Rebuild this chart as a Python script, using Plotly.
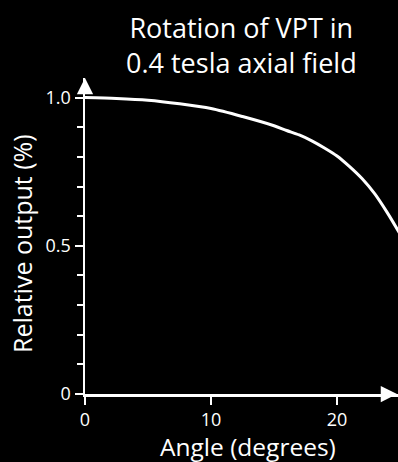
import plotly.graph_objects as go

angle_deg = [0, 2.5, 5, 7.5, 10, 12.5, 15, 16, 17, 18, 19, 20, 21, 22, 23, 24, 25]
relative_output = [1.0, 0.997, 0.991, 0.979, 0.963, 0.936, 0.905, 0.889, 0.874, 0.854,
                   0.830, 0.803, 0.767, 0.726, 0.675, 0.611, 0.54]

x_tick_vals = [0, 10, 20]
x_tick_text = ["0", "10", "20"]
y_tick_vals = [0, 0.5, 1.0]
y_tick_text = ["0", "0.5", "1.0"]

title_text = "Rotation of VPT in<br>0.4 tesla axial field"
x_title = "Angle (degrees)"
y_title = "Relative output (%)"

FONT = "Open Sans"
W, H = 398, 462
L, R, T, B = 85, 0, 78, 68
X_MAX = 24.84
Y_MAX = 1.066
PW = W - L - R
PH = H - T - B

fig = go.Figure()
fig.add_trace(go.Scatter(
    x=angle_deg, y=relative_output, mode="lines",
    line=dict(color="white", width=3, shape="spline", smoothing=0.8),
    hoverinfo="skip", showlegend=False,
))

fig.update_layout(
    width=W, height=H,
    margin=dict(l=L, r=R, t=T, b=B, pad=0),
    paper_bgcolor="black", plot_bgcolor="black",
    font=dict(family=FONT, color="white"),
    xaxis=dict(
        range=[0, X_MAX], showgrid=False, zeroline=False,
        showline=True, linecolor="white", linewidth=2.5,
        ticks="outside", ticklen=8, tickwidth=2, tickcolor="white",
        tickvals=x_tick_vals, ticktext=x_tick_text,
        tickfont=dict(size=18, family=FONT, color="white"),
    ),
    yaxis=dict(
        range=[0, Y_MAX], showgrid=False, zeroline=False,
        showline=True, linecolor="white", linewidth=2.5,
        ticks="outside", ticklen=8, tickwidth=2, tickcolor="white",
        tickvals=y_tick_vals, ticktext=y_tick_text,
        tickfont=dict(size=18, family=FONT, color="white"),
        minor=dict(dtick=0.1, tick0=0, ticks="outside", ticklen=6, tickwidth=2, tickcolor="white"),
    ),
)

# axis arrowheads
fig.add_annotation(x=1, y=0, xref="paper", yref="paper", ax=-14, ay=0,
                   text="", showarrow=True, arrowhead=2, arrowsize=1.3,
                   arrowwidth=2.5, arrowcolor="white")
fig.add_annotation(x=0, y=1, xref="paper", yref="paper", ax=0, ay=14,
                   text="", showarrow=True, arrowhead=2, arrowsize=1.3,
                   arrowwidth=2.5, arrowcolor="white")

# title
fig.add_annotation(x=(241 - L) / PW, y=1, xref="paper", yref="paper",
                   yanchor="bottom", yshift=-4, xanchor="center", align="center",
                   borderpad=0,
                   text=title_text, showarrow=False,
                   font=dict(size=27, family=FONT, color="white"))
# x title
fig.add_annotation(x=(248 - L) / PW, y=0, xref="paper", yref="paper",
                   xanchor="center", yanchor="top", yshift=-35, borderpad=0,
                   text=x_title, showarrow=False,
                   font=dict(size=24.5, family=FONT, color="white"))
# y title
fig.add_annotation(x=0, y=(394 - 244) / PH, xref="paper", yref="paper",
                   xanchor="center", yanchor="middle", xshift=-(L - 22),
                   borderpad=0,
                   text=y_title, textangle=-90, showarrow=False,
                   font=dict(size=25, family=FONT, color="white"))

fig.write_html(
    "out.html",
    config={"displayModeBar": False, "staticPlot": True},
    post_script="document.body.style.margin='0';document.body.style.overflow='hidden';"
                "document.body.style.background='black';",
)
